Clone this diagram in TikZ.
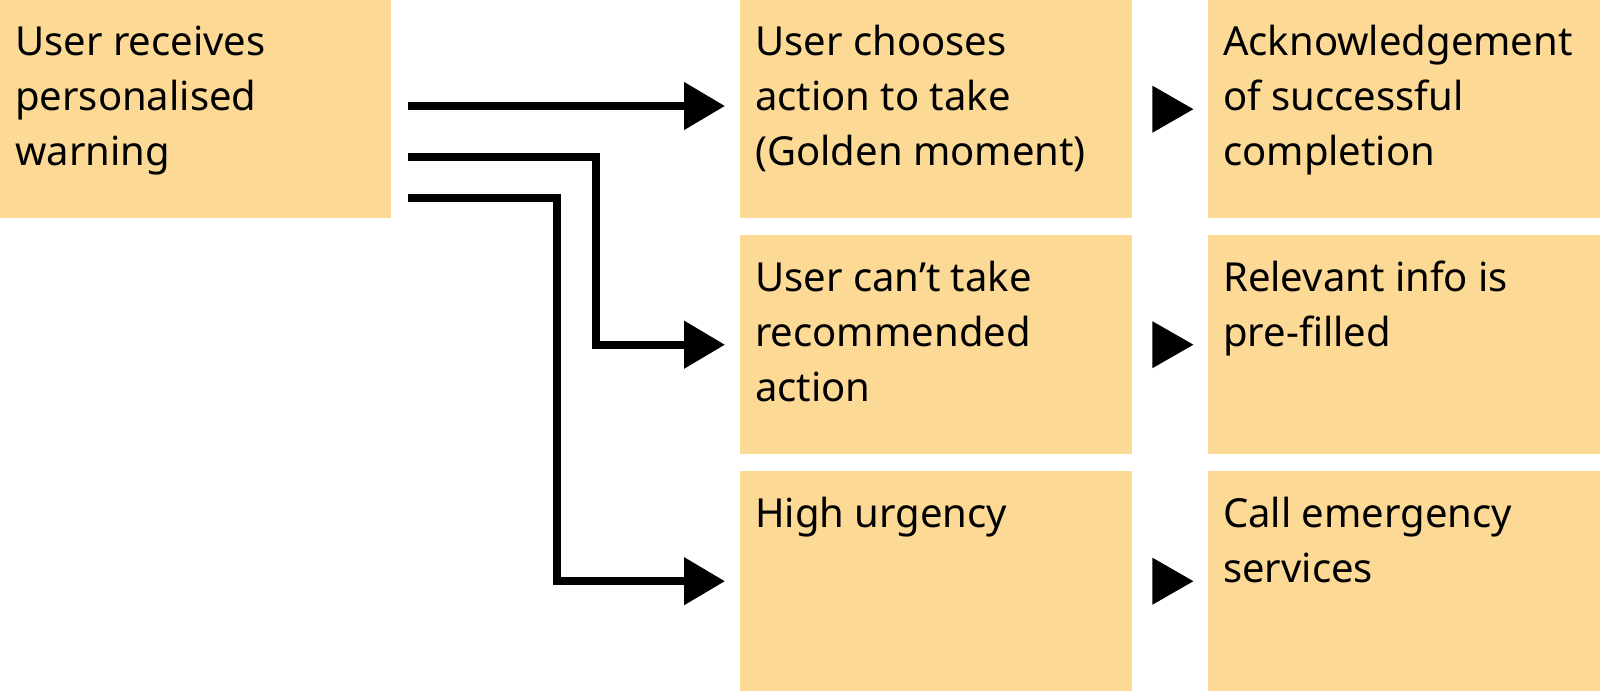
\documentclass[tikz,border=0pt]{standalone}
\usepackage{fontspec}
\setmainfont{Noto Sans}
\usetikzlibrary{arrows.meta,calc}
\definecolor{boxfill}{HTML}{FCD995}
\begin{document}
\begin{tikzpicture}[x=1pt,y=-1pt,
  box/.style={fill=boxfill, draw=none, inner sep=0pt, anchor=north west, minimum width=392pt},
  txt/.style={anchor=base west, inner sep=0pt, font=\fontsize{40}{55}\selectfont},
  conn/.style={line width=8pt, line join=miter, -{Triangle[length=41pt,width=46pt]}, shorten >=15pt},
  tipmark/.style={fill=black}]
\useasboundingbox (0,0) rectangle (1600,691);
% boxes
\node[box, minimum width=391pt, minimum height=218pt] (a) at (0,0) {};
\node[box, minimum height=218pt] (m1) at (740,0) {};
\node[box, minimum height=219pt] (m2) at (740,235) {};
\node[box, minimum height=220pt] (m3) at (740,471) {};
\node[box, minimum height=218pt] (r1) at (1208,0) {};
\node[box, minimum height=219pt] (r2) at (1208,235) {};
\node[box, minimum height=220pt] (r3) at (1208,471) {};
% texts
\node[txt] (ta) at ($(a.north west)+(15,55)$) {\parbox[t]{370pt}{\raggedright User receives\\personalised\\warning}};
\node[txt] (tm1) at ($(m1.north west)+(15,55)$) {\parbox[t]{370pt}{\raggedright User chooses\\action to take\\(Golden moment)}};
\node[txt] (tm2) at ($(m2.north west)+(15,56)$) {\parbox[t]{370pt}{\raggedright User can’t take\\recommended\\action}};
\node[txt] (tm3) at ($(m3.north west)+(15,56)$) {\parbox[t]{370pt}{\raggedright High urgency}};
\node[txt] (tr1) at ($(r1.north west)+(15,55)$) {\parbox[t]{380pt}{\raggedright Acknowledgement\\of successful\\completion}};
\node[txt] (tr2) at ($(r2.north west)+(15,56)$) {\parbox[t]{380pt}{\raggedright Relevant info is\\pre-filled}};
\node[txt] (tr3) at ($(r3.north west)+(15,56)$) {\parbox[t]{380pt}{\raggedright Call emergency\\services}};
% connector start points
\coordinate (s1) at (408,106);
\coordinate (s2) at (408,157);
\coordinate (s3) at (408,198);
\draw[conn] (s1) -- (s1 -| m1.west);
\draw[conn] (s2) -- (596,157) |- (m2.west);
\draw[conn] (s3) -- (557,198) |- (m3.west);
% small marks between columns
\foreach \m in {m1,m2,m3}{
  \fill[tipmark] ($(\m.east)+(20,-23.5)$) -- ($(\m.east)+(20,23.5)$) -- ($(\m.east)+(61,0)$) -- cycle;
}
\end{tikzpicture}
\end{document}
